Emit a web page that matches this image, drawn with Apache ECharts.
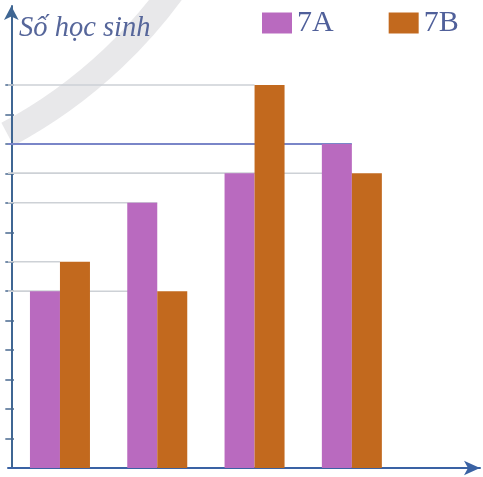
<!DOCTYPE html>
<html>
<head>
<meta charset="utf-8">
<script src="https://cdn.jsdelivr.net/npm/echarts@6/dist/echarts.min.js"></script>
<style>html,body{margin:0;padding:0;background:#fff}#c{width:483px;height:477px}</style>
</head>
<body>
<div id="c"></div>
<script>
const groups = ['1', '2', '3', '4'];
const seriesNames = ['7A', '7B'];
const values7A = [6, 9, 10, 11];
const values7B = [7, 6, 13, 10];
const yTicks = [1, 2, 3, 4, 5, 6, 7, 8, 9, 10, 11, 12, 13];
const yTitle = 'Số học sinh';

const allValues = [values7A, values7B];
const colors = ['#b96abf', '#c2691e'];
const axisColor = '#3a62a4';
const xMin = -0.034;
const xMax = 4.817;

const barSeries = allValues.map((vals, s) => ({
  name: seriesNames[s],
  type: 'bar',
  z: 3,
  barWidth: 30,
  barGap: '0%',
  itemStyle: { color: colors[s] },
  data: vals.map((v, i) => [i + 0.5, v])
}));

const guideSeries = [];
allValues.forEach((vals, s) => {
  vals.forEach((v, i) => {
    const highlight = (s === 0 && i === 3);
    guideSeries.push({
      type: 'line',
      z: 1,
      silent: true,
      symbol: 'none',
      lineStyle: { color: highlight ? '#7a86c8' : '#cdd1d6', width: highlight ? 2 : 1.5 },
      data: [[xMin, v], [i + 0.5, v]]
    });
  });
});

const chart = echarts.init(document.getElementById('c'), null, { renderer: 'canvas' });
chart.setOption({
  animation: false,
  backgroundColor: '#ffffff',
  title: {
    text: yTitle,
    left: 14, top: 9,
    textStyle: { fontFamily: 'Liberation Serif', fontStyle: 'italic', fontWeight: 'normal', fontSize: 28.5, color: '#56669a' }
  },
  legend: {
    data: seriesNames,
    left: 257, top: 3,
    icon: 'rect',
    itemWidth: 30, itemHeight: 21, itemGap: 55,
    textStyle: { fontFamily: 'Liberation Serif', fontSize: 30, color: '#50609a' }
  },
  graphic: [{
    type: 'arc',
    z: -10,
    silent: true,
    shape: { cx: -223, cy: -297, r: 489, startAngle: 0.55, endAngle: 1.08 },
    style: { stroke: '#e8e8ea', lineWidth: 26, fill: null }
  }],
  grid: { left: 8, right: 3, top: 6, bottom: 9, containLabel: false },
  xAxis: {
    type: 'value', min: xMin, max: xMax,
    splitLine: { show: false },
    axisTick: { show: false },
    axisLabel: { show: false },
    axisLine: { show: true, lineStyle: { color: axisColor, width: 2 }, symbol: ['none', 'arrow'], symbolSize: [11, 16] }
  },
  yAxis: [{
    type: 'value', min: 0, max: 15.68,
    splitLine: { show: false },
    axisLabel: { show: false },
    axisTick: { show: true, customValues: yTicks, length: 6, lineStyle: { color: '#4a6990', width: 1.5 } },
    axisLine: { show: true, lineStyle: { color: '#3f6693', width: 2 }, symbol: ['none', 'arrow'], symbolSize: [11, 14] }
  }, {
    type: 'value', min: 0, max: 15.68, position: 'left',
    splitLine: { show: false },
    axisLabel: { show: false },
    axisLine: { show: false },
    axisTick: { show: true, inside: true, customValues: yTicks, length: 6, lineStyle: { color: '#4a6990', width: 1.5 } }
  }],
  series: guideSeries.concat(barSeries)
});
</script>
</body>
</html>
